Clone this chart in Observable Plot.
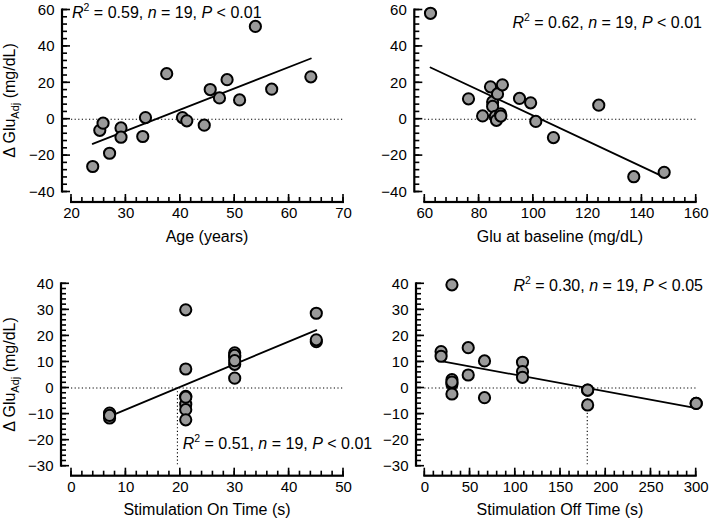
<!DOCTYPE html>
<html><head><meta charset="utf-8">
<script src="https://cdn.jsdelivr.net/npm/d3@7"></script>
<script src="https://cdn.jsdelivr.net/npm/@observablehq/plot@0.6"></script>
<style>
body{margin:0;background:#fff;}
#fig{position:relative;width:709px;height:519px;font-family:"Liberation Sans",Arial,sans-serif;}
#fig > svg{position:absolute;overflow:visible;background:transparent;max-width:none;}
</style></head><body><div id="fig"></div>
<script>
// ---- data ----
const ageX = [23.9,25.2,25.8,27.0,29.1,29.1,33.1,33.6,37.5,40.4,41.2,44.4,45.5,47.2,48.6,50.9,53.8,56.8,64.0];
const ageY = [-26,-6.1,-2.2,-18.7,-4.8,-9.9,-9.5,0.9,25,0.9,-0.9,-3.3,16.3,11.7,21.7,10.6,51,16.5,23.3];

const gluX = [62.1,76.1,81.3,84.2,85,85,86,86.4,86.8,87.9,88,88.6,94.9,99,100.9,107.4,124.1,137,148.2];
const gluY = [58.2,11.2,1.8,17.8,9.5,7,1.5,-0.6,13.9,2.9,1.7,18.9,11.4,9,-1.2,-10.1,7.7,-31.6,-29.2];

const onX = [7,7,7,21,21,21,21,21,21,21,30,30,30,30,30,30,45,45,45];
const onY = [-9.6,-11.5,-10.5,30,7.3,-3.2,-6.2,-8.3,-12.2,-3.5,13.5,11.8,9.1,3.8,12.5,10.5,28.7,17.8,18.5];

const offX = [18,18,30,30,30,30,30,48,48,66,66,108,108,108,180,180,180,300,300];
const offY = [14,12.2,39.6,3.2,1.5,2.3,-2.3,15.5,5,10.4,-3.7,9.9,6.3,4.1,-0.8,-6.5,-0.8,-5.9,-5.9];

const xTicksAge = [20,30,40,50,60,70];
const xTicksGlu = [60,80,100,120,140,160];
const xTicksOn = [0,10,20,30,40,50];
const xTicksOff = [0,50,100,150,200,250,300];
const yTicksTop = [-40,-20,0,20,40,60];
const yTicksBottom = [-30,-20,-10,0,10,20,30,40];

const xTitles = ["Age (years)","Glu at baseline (mg/dL)","Stimulation On Time (s)","Stimulation Off Time (s)"];
const r2Values = ["0.59","0.62","0.51","0.30"];
const nValues = ["19","19","19","19"];
const pValues = ["0.01","0.01","0.01","0.05"];

// ---- helpers ----
const FONT = '"Liberation Sans", Arial, sans-serif';
const fmt = d => d < 0 ? "\u2212" + Math.abs(d) : String(d);

function lsq(xs, ys) {
  const mx = d3.mean(xs), my = d3.mean(ys);
  let sxy = 0, sxx = 0;
  xs.forEach((x, i) => { sxy += (x - mx) * (ys[i] - my); sxx += (x - mx) ** 2; });
  const b = sxy / sxx;
  return {a: my - b * mx, b};
}

function panel(c) {
  const data = c.xs.map((x, i) => ({x, y: c.ys[i]}));
  const xMinor = d3.range(c.xDomain[0], c.xDomain[1] + 1e-9, c.xMinorStep);
  const yMinor = d3.range(c.yDomain[0], c.yDomain[1] + 1e-9, c.yMinorStep);
  const x0 = c.xDomain[0], x1 = c.xDomain[1], y0 = c.yDomain[0], y1 = c.yDomain[1];
  const marks = [
    Plot.ruleY([0], {x1: x0, x2: x1, stroke: "black", strokeWidth: 1.1, strokeDasharray: "1.2,2.4"}),
  ];
  if (c.vline) {
    const {a, b} = lsq(c.xs, c.ys);
    const xc = -a / b;
    marks.push(Plot.ruleX([xc], {y1: 0, y2: y0, stroke: "black", strokeWidth: 1.1, strokeDasharray: "1.2,2.4"}));
  }
  marks.push(
    // detached axis lines, drawn as thin filled rects
    Plot.rect([0], {x1: x0, x2: x1, y1: y0, y2: y0, dy: c.insetBottom, insetTop: -1.1, insetBottom: -1.1, insetLeft: -1, insetRight: -1, fill: "black"}),
    Plot.rect([0], {x1: x0, x2: x0, y1: y0, y2: y1, dx: -c.insetLeft, insetLeft: -1.1, insetRight: -1.1, insetTop: -1, insetBottom: -1, fill: "black"}),
    // inward ticks, drawn as thin filled rects
    Plot.rect(xMinor, {x1: d => d, x2: d => d, y1: y0, y2: y0, dy: c.insetBottom, insetLeft: -0.8, insetRight: -0.8, insetTop: -5, insetBottom: 0, fill: "black"}),
    Plot.rect(c.xTicks, {x1: d => d, x2: d => d, y1: y0, y2: y0, dy: c.insetBottom, insetLeft: -0.8, insetRight: -0.8, insetTop: -8, insetBottom: 0, fill: "black"}),
    Plot.rect(yMinor, {y1: d => d, y2: d => d, x1: x0, x2: x0, dx: -c.insetLeft, insetTop: -0.8, insetBottom: -0.8, insetLeft: 0, insetRight: -5, fill: "black"}),
    Plot.rect(c.yTicks, {y1: d => d, y2: d => d, x1: x0, x2: x0, dx: -c.insetLeft, insetTop: -0.8, insetBottom: -0.8, insetLeft: 0, insetRight: -8, fill: "black"}),
    Plot.linearRegressionY(data, {x: "x", y: "y", stroke: "black", strokeWidth: 1.8, ci: 0}),
    Plot.dot(data, {x: "x", y: "y", r: 5.6, fill: "#9a9a9a", stroke: "black", strokeWidth: 2}),
    // tick labels
    Plot.axisX({ticks: c.xTicks, tickSize: 0, tickPadding: 5, tickFormat: fmt, label: null, fontSize: 15}),
    Plot.axisY({ticks: c.yTicks, tickSize: 0, tickPadding: 8, tickFormat: fmt, label: null, fontSize: 15})
  );
  const plot = Plot.plot({
    width: c.width, height: c.height,
    marginLeft: c.marginLeft, marginRight: c.marginRight,
    marginTop: c.marginTop, marginBottom: c.marginBottom,
    x: {domain: c.xDomain, insetLeft: c.insetLeft},
    y: {domain: c.yDomain, insetBottom: c.insetBottom},
    style: {fontFamily: FONT, fontSize: "15px", color: "black", background: "transparent", overflow: "visible"},
    marks
  });
  plot.style.left = c.left + "px";
  plot.style.top = c.top + "px";
  plot.style.maxWidth = "none";

  const svg = d3.select(plot);
  const sxd = plot.scale("x"), syd = plot.scale("y");
  // x title
  const xr = sxd.range;
  svg.append("text").attr("x", (xr[0] + xr[1]) / 2).attr("y", c.xTitleY)
    .attr("text-anchor", "middle").attr("font-size", 16).attr("fill", "black").text(c.xTitle);
  // y title
  if (c.yTitle) {
    const yr = syd.range;
    const t = svg.append("text").attr("transform", `translate(15,${(yr[0] + yr[1]) / 2}) rotate(-90)`)
      .attr("text-anchor", "middle").attr("font-size", 16).attr("fill", "black").style("white-space", "pre");
    t.append("tspan").text("\u0394 Glu");
    t.append("tspan").attr("font-size", 11).attr("dy", 4).text("Adj");
    t.append("tspan").attr("dy", -4).text(" (mg/dL)");
  }
  // annotation
  const t = svg.append("text").attr("x", c.annX).attr("y", c.annY).attr("text-anchor", c.annAnchor)
    .attr("font-size", 16).attr("fill", "black").style("white-space", "pre");
  t.append("tspan").attr("font-style", "italic").text("R");
  t.append("tspan").attr("font-size", 10.5).attr("dy", -7).text("2");
  t.append("tspan").attr("dy", 7).text(` = ${c.r2}, `);
  t.append("tspan").attr("font-style", "italic").text("n");
  t.append("tspan").text(` = ${c.n}, `);
  t.append("tspan").attr("font-style", "italic").text("P");
  t.append("tspan").text(` < ${c.p}`);
  document.getElementById("fig").appendChild(plot);
}

panel({xs: ageX, ys: ageY, xDomain: [20, 70], xTicks: xTicksAge, xMinorStep: 2,
  yDomain: [-40, 60], yTicks: yTicksTop, yMinorStep: 4,
  left: 0, top: 0, width: 355, height: 260, marginLeft: 62, marginRight: 12, marginTop: 9.5, marginBottom: 58,
  insetLeft: 9, insetBottom: 10.5, xTitle: xTitles[0], xTitleY: 242, yTitle: true,
  annX: 72, annY: 17.5, annAnchor: "start", r2: r2Values[0], n: nValues[0], p: pValues[0]});

panel({xs: gluX, ys: gluY, xDomain: [60, 160], xTicks: xTicksGlu, xMinorStep: 4,
  yDomain: [-40, 60], yTicks: yTicksTop, yMinorStep: 4,
  left: 355, top: 0, width: 354, height: 260, marginLeft: 59.3, marginRight: 13.3, marginTop: 9.5, marginBottom: 58,
  insetLeft: 10, insetBottom: 10.5, xTitle: xTitles[1], xTitleY: 242, yTitle: false,
  annX: 347, annY: 27.5, annAnchor: "end", r2: r2Values[1], n: nValues[1], p: pValues[1]});

panel({xs: onX, ys: onY, xDomain: [0, 50], xTicks: xTicksOn, xMinorStep: 2,
  yDomain: [-30, 40], yTicks: yTicksBottom, yMinorStep: 2,
  left: 0, top: 260, width: 355, height: 259, marginLeft: 61, marginRight: 12, marginTop: 23.3, marginBottom: 43.3,
  insetLeft: 10, insetBottom: 10, xTitle: xTitles[2], xTitleY: 255, yTitle: true, vline: true,
  annX: 182.7, annY: 188.5, annAnchor: "start", r2: r2Values[2], n: nValues[2], p: pValues[2]});

panel({xs: offX, ys: offY, xDomain: [0, 300], xTicks: xTicksOff, xMinorStep: 10,
  yDomain: [-30, 40], yTicks: yTicksBottom, yMinorStep: 2,
  left: 355, top: 260, width: 354, height: 259, marginLeft: 61, marginRight: 13.3, marginTop: 23.3, marginBottom: 43.3,
  insetLeft: 8.3, insetBottom: 10, xTitle: xTitles[3], xTitleY: 255, yTitle: false, vline: true,
  annX: 348, annY: 31, annAnchor: "end", r2: r2Values[3], n: nValues[3], p: pValues[3]});
</script></body></html>
